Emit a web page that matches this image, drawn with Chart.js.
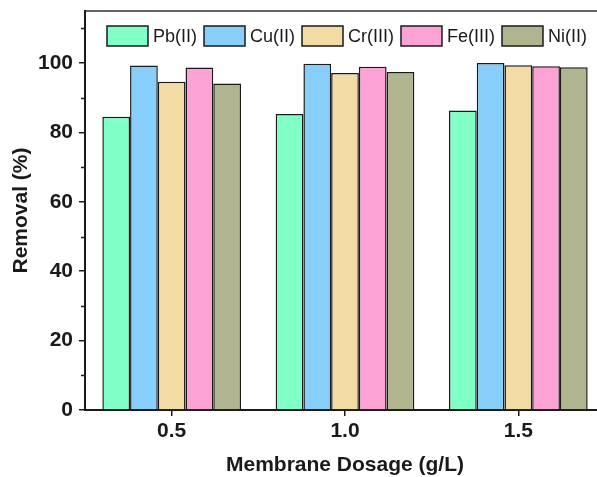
<!DOCTYPE html>
<html>
<head>
<meta charset="utf-8">
<script src="https://cdn.jsdelivr.net/npm/chart.js@4"></script>
<style>
html,body{margin:0;padding:0;background:#fff;overflow:hidden;width:597px;height:477px;}
canvas{display:block;}
</style>
</head>
<body>
<canvas id="c" width="605" height="477"></canvas>
<script>
const categories = ['0.5', '1.0', '1.5'];
const seriesNames = ['Pb(II)', 'Cu(II)', 'Cr(III)', 'Fe(III)', 'Ni(II)'];
const pbValues = [84.5, 85.3, 86.3];
const cuValues = [99.3, 99.8, 100.0];
const crValues = [94.6, 97.1, 99.4];
const feValues = [98.7, 98.9, 99.1];
const niValues = [94.1, 97.4, 98.8];
const yTicks = [0, 20, 40, 60, 80, 100];
const yMinorTicks = [10, 30, 50, 70, 90, 110];
const colors = ['#80FFC6', '#87CEFA', '#F2DBA5', '#FCA2D4', '#B0B590'];

const FONT = "'Liberation Sans', Arial, sans-serif";
const ink = '#1a1a1a';

const allValues = [pbValues, cuValues, crValues, feValues, niValues];
const datasets = seriesNames.map((n, i) => ({
  label: n,
  data: allValues[i],
  backgroundColor: colors[i],
  borderColor: ink,
  borderWidth: 1.5,
  borderSkipped: 'bottom'
}));

const framePlugin = {
  id: 'frame',
  afterDraw(chart) {
    const {ctx, chartArea: a, scales} = chart;
    ctx.save();
    ctx.strokeStyle = '#333';
    ctx.lineWidth = 1.5;
    ctx.beginPath();
    ctx.moveTo(a.left, a.top);
    ctx.lineTo(a.right, a.top);
    ctx.lineTo(a.right, a.bottom);
    ctx.stroke();
    ctx.strokeStyle = ink;
    ctx.lineWidth = 1.5;
    yMinorTicks.forEach(v => {
      const y = Math.round(scales.y.getPixelForValue(v)) + 0.5;
      ctx.beginPath();
      ctx.moveTo(a.left - 4, y);
      ctx.lineTo(a.left, y);
      ctx.stroke();
    });
    ctx.font = '18px ' + FONT;
    ctx.textBaseline = 'middle';
    ctx.textAlign = 'left';
    let x = 107;
    const top = 26, bw = 41, bh = 20;
    chart.data.datasets.forEach(ds => {
      ctx.fillStyle = ds.backgroundColor;
      ctx.fillRect(x, top, bw, bh);
      ctx.strokeStyle = ink;
      ctx.lineWidth = 1.5;
      ctx.strokeRect(x, top, bw, bh);
      ctx.fillStyle = ink;
      ctx.fillText(ds.label, x + bw + 5, top + bh / 2 + 1);
      x += bw + 5 + ctx.measureText(ds.label).width + 7;
    });
    ctx.restore();
  }
};

function zeroPad(s) { s.paddingTop = 0; s.paddingBottom = 0; s.paddingLeft = 0; s.paddingRight = 0; }

new Chart(document.getElementById('c'), {
  type: 'bar',
  data: {labels: categories, datasets},
  options: {
    responsive: false,
    devicePixelRatio: 1,
    animation: false,
    layout: {padding: {top: 11, right: 0, left: 0, bottom: 0}},
    plugins: {legend: {display: false}, tooltip: {enabled: false}},
    datasets: {bar: {categoryPercentage: 0.8, barPercentage: 1.0}},
    scales: {
      x: {
        offset: true,
        grid: {display: true, drawOnChartArea: false, drawTicks: true, tickLength: 6, offset: false, color: ink, lineWidth: 1.5},
        border: {display: true, color: ink, width: 2},
        ticks: {color: ink, font: {family: FONT, size: 21, weight: 'bold'}, padding: 3, maxRotation: 0},
        title: {display: true, text: 'Membrane Dosage (g/L)', color: ink,
                font: {family: FONT, size: 21, weight: 'bold', lineHeight: 1}, padding: {top: 0, bottom: 1}},
        afterFit(s) { s.height = 67; zeroPad(s); }
      },
      y: {
        min: 0, max: 115,
        afterBuildTicks(s) { s.ticks = yTicks.map(v => ({value: v})); },
        grid: {display: true, drawOnChartArea: false, drawTicks: true, tickLength: 6, color: ink, lineWidth: 1.5},
        border: {display: true, color: ink, width: 2},
        ticks: {color: ink, font: {family: FONT, size: 21, weight: 'bold'}, padding: 6},
        title: {display: true, text: 'Removal (%)', color: ink,
                font: {family: FONT, size: 21, weight: 'bold', lineHeight: 1}, padding: {top: 11, bottom: 0}},
        afterFit(s) { s.width = 85; zeroPad(s); }
      }
    }
  },
  plugins: [framePlugin]
});
</script>
</body>
</html>
